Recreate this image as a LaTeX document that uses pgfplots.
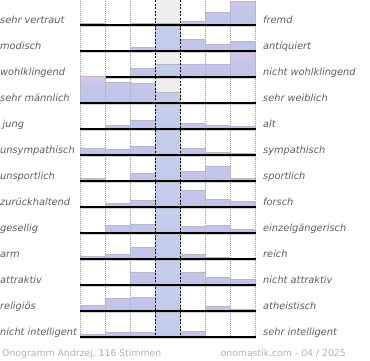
\documentclass[border=0pt]{standalone}
\usepackage{pgfplots}
\pgfplotsset{compat=1.18}
\usepackage{fontspec}
\setmainfont{DejaVu Sans}
\definecolor{labgray}{HTML}{5E5E5E}
\definecolor{footgray}{HTML}{B2B2B2}
\definecolor{bandgray}{HTML}{EEEEEE}
\definecolor{sA}{HTML}{A99ED2}
\definecolor{sB}{HTML}{B9B9E2}
\definecolor{sC}{HTML}{C1C5E9}
\definecolor{sD}{HTML}{C4C6EA}
\definecolor{sE}{HTML}{DCC6E6}
\definecolor{cA}{HTML}{ACA6D6}
\definecolor{cB}{HTML}{BCC0E6}
\definecolor{cC}{HTML}{C2CAEA}
\definecolor{cD}{HTML}{C6CFEC}
\pgfdeclareverticalshading{barshade}{100bp}{color(0bp)=(sA); color(25bp)=(sA); color(27bp)=(sB); color(30bp)=(sC); color(58bp)=(sD); color(75bp)=(sE); color(100bp)=(sE)}
\pgfdeclareverticalshading{centershade}{100bp}{color(0bp)=(cA); color(25bp)=(cA); color(27bp)=(cB); color(30bp)=(cC); color(75bp)=(cD); color(100bp)=(cD)}
\pgfplotsset{
  rowax/.style={anchor=south west, width=175pt, height=26pt, scale only axis,
    xmin=0, xmax=7, ymin=0, ymax=26, hide axis, clip=false},
  bars/.style={ybar, bar width=25pt, bar shift=0pt, draw=gray!55, line width=0.5pt,
    path picture={\shade[path picture={}, draw=none, shading=barshade] (path picture bounding box.south west) rectangle ([yshift=26pt]path picture bounding box.south east);}},
  cbars/.style={ybar, bar width=25pt, bar shift=0pt, draw=gray!55, line width=0.5pt,
    restrict x to domain=3:4,
    path picture={\shade[path picture={}, draw=none, shading=centershade] (path picture bounding box.south west) rectangle ([yshift=26pt]path picture bounding box.south east);}},
}
\newcommand\drawrow[4]{%
  \begin{axis}[rowax, at={(80pt,-#1pt)}]
    \addplot[bars] coordinates {#4};
    \addplot[cbars] coordinates {#4};
    \draw[gray!35, line width=0.8pt] ([yshift=-1.1pt]rel axis cs:0,0) -- ([yshift=-1.1pt,xshift=1pt]rel axis cs:1,0);
    \draw[black, line width=1.1pt] (rel axis cs:0,0) -- ([xshift=1pt]rel axis cs:1,0);
  \end{axis}
  \node[anchor=base west, inner sep=0pt, text=labgray, font=\fontsize{9.8}{10}\selectfont\itshape] at (0pt,{-#1pt+2pt}) {#2};
  \node[anchor=base west, inner sep=0pt, text=labgray, font=\fontsize{9.8}{10}\selectfont\itshape] at (263pt,{-#1pt+2pt}) {#3};
}
\begin{document}
\begin{tikzpicture}
\useasboundingbox (0,0) rectangle (370pt,-360pt);
% background: grey centre band and dotted separators
\begin{axis}[anchor=south west, at={(80pt,-338pt)}, width=175pt, height=338pt, scale only axis,
  xmin=0, xmax=7, ymin=0, ymax=338, hide axis, clip=false]
  \fill[bandgray] (axis cs:3,0) rectangle (axis cs:4,338);
  \pgfplotsinvokeforeach{0,1,2,5,6,7}{
    \draw[gray!80, line width=0.5pt, dash pattern=on 0.8pt off 1.2pt] (axis cs:#1,0) -- (axis cs:#1,338);
  }
\end{axis}
\drawrow{25}{sehr vertraut}{fremd}{(0.5,2) (2.5,2) (3.5,2) (4.5,3.5) (5.5,12.3) (6.5,24)}
\drawrow{51}{modisch}{antiquiert}{(2.5,3.7) (3.5,25) (4.5,12) (5.5,7) (6.5,9.7)}
\drawrow{77}{wohlklingend}{nicht wohlklingend}{(2.5,9) (3.5,12.4) (4.5,12.4) (5.5,12.4) (6.5,25)}
\drawrow{103}{sehr männlich}{sehr weiblich}{(0.5,26.5) (1.5,21) (2.5,20) (3.5,11) (6.5,0.7)}
\drawrow{129}{\hspace*{2.5pt}jung}{alt}{(0.5,0.5) (1.5,3.7) (2.5,8.3) (3.5,25) (4.5,5.3) (5.5,4) (6.5,2.3)}
\drawrow{155}{unsympathisch}{sympathisch}{(0.5,7) (1.5,5.3) (2.5,9) (3.5,25) (4.5,7) (5.5,2.6) (6.5,1.7)}
\drawrow{181}{unsportlich}{sportlich}{(0.5,3) (1.5,1) (2.5,7.3) (3.5,25) (4.5,9.7) (5.5,14.3) (6.5,3)}
\drawrow{207}{zurückhaltend}{forsch}{(1.5,3.5) (2.5,6.3) (3.5,25) (4.5,16.3) (5.5,8) (6.5,5.5)}
\drawrow{233}{gesellig}{einzelgängerisch}{(0.5,1) (1.5,7.7) (2.5,8.7) (3.5,25) (4.5,6.3) (5.5,7.3) (6.5,3.7)}
\drawrow{259}{arm}{reich}{(0.5,2.5) (1.5,4.7) (2.5,11.7) (3.5,25) (4.5,4.7) (5.5,1.7)}
\drawrow{285}{attraktiv}{nicht attraktiv}{(2.5,13) (3.5,25) (4.5,13) (5.5,8) (6.5,6)}
\drawrow{311}{religiös}{atheistisch}{(0.5,6) (1.5,12.7) (2.5,14) (3.5,25) (4.5,0.5) (5.5,5) (6.5,2)}
\drawrow{337}{nicht intelligent}{sehr intelligent}{(0.5,3) (1.5,4.7) (2.5,4.3) (3.5,25) (4.5,5.7)}
% foreground: dashed centre lines
\begin{axis}[anchor=south west, at={(80pt,-338pt)}, width=175pt, height=338pt, scale only axis,
  xmin=0, xmax=7, ymin=0, ymax=338, hide axis, clip=false]
  \pgfplotsinvokeforeach{3,4}{
    \draw[black, line width=0.8pt, dash pattern=on 2pt off 1.5pt] (axis cs:#1,0) -- (axis cs:#1,338);
  }
\end{axis}
\node[anchor=base west, inner sep=0pt, text=footgray, font=\fontsize{9.3}{10}\selectfont] at (2pt,-356pt) {Onogramm Andrzej, 116 Stimmen};
\node[anchor=base east, inner sep=0pt, text=footgray, font=\fontsize{9.3}{10}\selectfont] at (346pt,-356pt) {onomastik.com - 04 / 2025};
\end{tikzpicture}
\end{document}
